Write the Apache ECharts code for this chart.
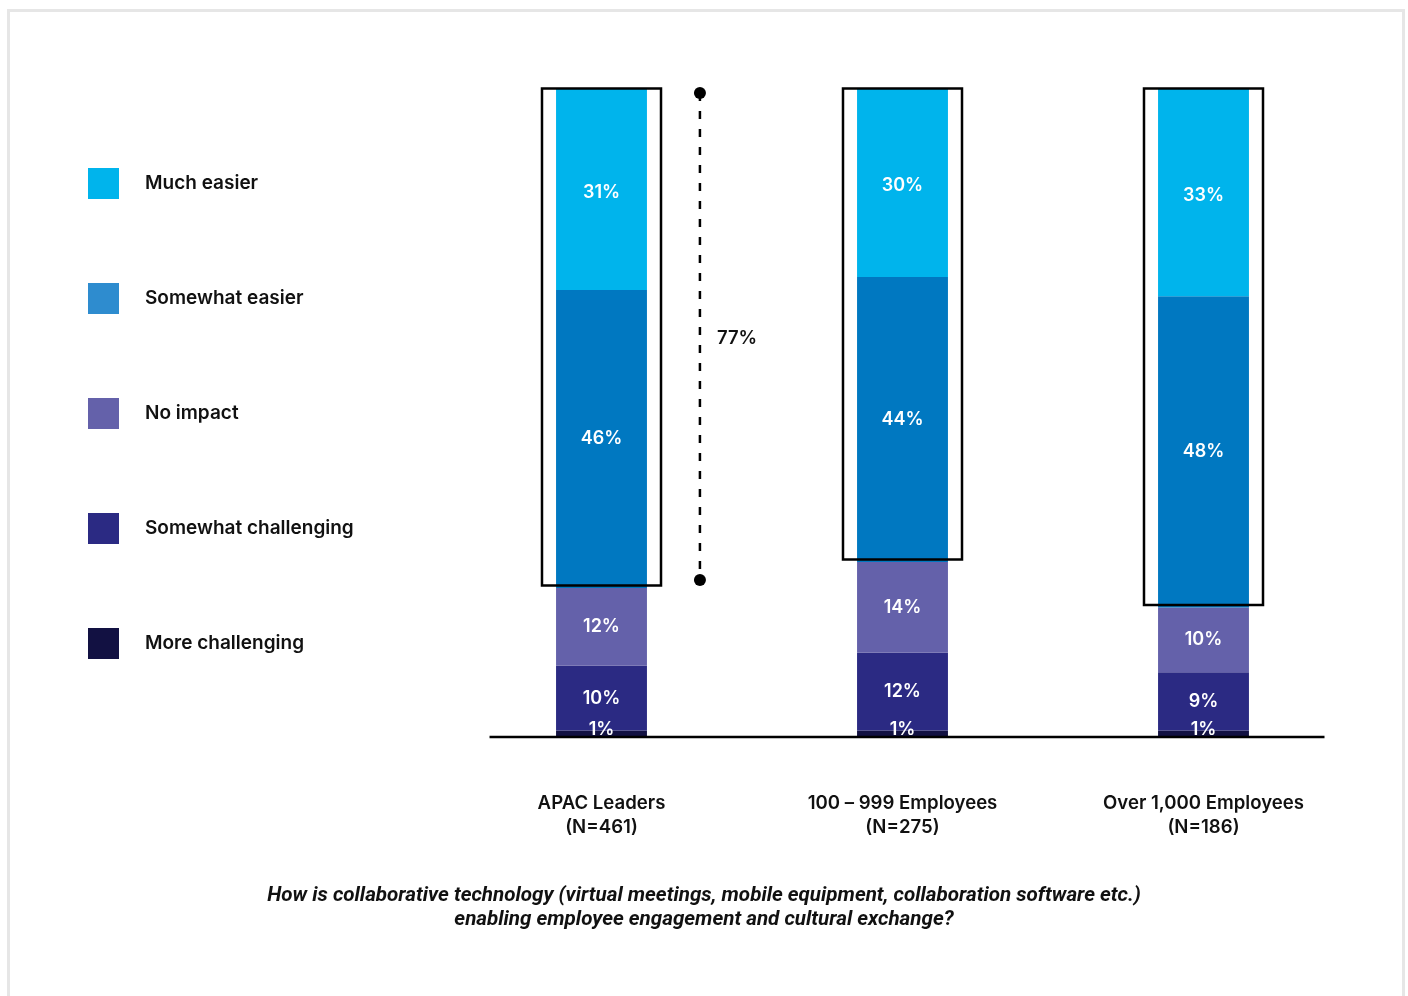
<!DOCTYPE html>
<html>
<head>
<meta charset="utf-8">
<script src="https://cdn.jsdelivr.net/npm/echarts@6/dist/echarts.min.js"></script>
<style>html,body{margin:0;padding:0;background:#fff;}#c{width:1408px;height:996px;}</style>
</head>
<body>
<div id="c"></div>
<script>
const categories = ['APAC Leaders\n(N=461)', '100 – 999 Employees\n(N=275)', 'Over 1,000 Employees\n(N=186)'];
const muchEasier = [31, 30, 33];
const somewhatEasier = [46, 44, 48];
const noImpact = [12, 14, 10];
const somewhatChallenging = [10, 12, 9];
const moreChallenging = [1, 1, 1];
const bracketLabel = '77%';
const seriesNames = ['Much easier', 'Somewhat easier', 'No impact', 'Somewhat challenging', 'More challenging'];

const colors = {
  'Much easier': '#00b4ec',
  'Somewhat easier': '#0078c1',
  'No impact': '#6461aa',
  'Somewhat challenging': '#2b2a83',
  'More challenging': '#121142'
};
const legendColors = {
  'Much easier': '#00b4ec',
  'Somewhat easier': '#2e8ccf',
  'No impact': '#6461aa',
  'Somewhat challenging': '#2b2a83',
  'More challenging': '#121142'
};
const FONT = 'Inter, Roboto, "Noto Sans", sans-serif';
const TFONT = 'Roboto, "Noto Sans", sans-serif';
const YMAX = 100;

const chart = echarts.init(document.getElementById('c'), null, {renderer: 'canvas'});

function barSeries(name, data, offsetY) {
  return {
    name: name, type: 'bar', stack: 'total', data: data,
    barWidth: '30.2%',
    itemStyle: {color: colors[name]},
    label: {show: true, position: 'inside', formatter: '{c}%', color: '#fff',
      fontFamily: FONT, fontSize: 18, fontWeight: 600, offset: [0, offsetY || 0]},
    emphasis: {disabled: true}
  };
}

// outline boxes around the "easier" part of each bar
const boxData = categories.map((c, i) => {
  const lower = moreChallenging[i] + somewhatChallenging[i] + noImpact[i];
  return [i, lower, lower + somewhatEasier[i] + muchEasier[i]];
});
const bracketData = [[0, boxData[0][1], boxData[0][2]]];

const option = {
  backgroundColor: '#fff',
  animation: false,
  title: {
    text: 'How is collaborative technology (virtual meetings, mobile equipment, collaboration software etc.)\nenabling employee engagement and cultural exchange?',
    left: 'center', top: 879,
    textStyle: {fontFamily: TFONT, fontStyle: 'italic', fontWeight: 'bold', fontSize: 20.6, lineHeight: 24, color: '#111'}
  },
  legend: {
    orient: 'vertical', left: 83, top: 163,
    itemWidth: 31, itemHeight: 31, itemGap: 84,
    icon: 'rect',
    selectedMode: false,
    textStyle: {fontFamily: FONT, fontSize: 19, fontWeight: 600, color: '#111', padding: [0, 0, 0, 21]},
    data: seriesNames.map(n => ({name: n, itemStyle: {color: legendColors[n]}}))
  },
  grid: {left: 451, right: 54, top: 89, bottom: 259, containLabel: false},
  xAxis: {
    type: 'category', data: categories,
    axisLine: {show: false}, axisTick: {show: false},
    axisLabel: {margin: 54, fontFamily: FONT, fontSize: 18.6, fontWeight: 600, color: '#111', lineHeight: 24}
  },
  yAxis: {type: 'value', min: 0, max: YMAX, show: false, splitLine: {show: false}},
  graphic: [{
    type: 'rect', shape: {x: 8.5, y: 10.5, width: 1395, height: 1000},
    style: {fill: 'none', stroke: '#e6e6e6', lineWidth: 3}, silent: true, z: -10
  }],
  series: [
    barSeries('More challenging', moreChallenging, -4),
    barSeries('Somewhat challenging', somewhatChallenging),
    barSeries('No impact', noImpact),
    barSeries('Somewhat easier', somewhatEasier),
    barSeries('Much easier', muchEasier, 3),
    {
      type: 'custom', name: 'boxes', z: 5, silent: true,
      data: boxData,
      renderItem: function (params, api) {
        const band = api.size([1, 0])[0];
        const p1 = api.coord([api.value(0), api.value(1)]);
        const p2 = api.coord([api.value(0), Math.min(api.value(2), YMAX)]);
        const hw = band * 0.1977;
        const children = [{
          type: 'rect',
          shape: {x: p1[0] - hw, y: p2[1] - 0.5, width: hw * 2, height: p1[1] - p2[1] - 2},
          style: {fill: 'none', stroke: '#000', lineWidth: 2.5}
        }];
        if (params.dataIndex === 0) {
          // baseline across the chart
          const a = api.coord([0, 0]);
          const b = api.coord([categories.length - 1, 0]);
          children.push({
            type: 'line',
            shape: {x1: a[0] - band * 0.372, y1: a[1], x2: b[0] + band * 0.402, y2: b[1]},
            style: {stroke: '#000', lineWidth: 2.5}
          });
        }
        return {type: 'group', children: children};
      }
    },
    {
      type: 'custom', name: 'bracket', z: 6, silent: true,
      data: bracketData,
      renderItem: function (params, api) {
        const band = api.size([1, 0])[0];
        const lo = api.coord([api.value(0), api.value(1)]);
        const hi = api.coord([api.value(0), Math.min(api.value(2), YMAX)]);
        const x = lo[0] + band * 0.327;
        const y1 = hi[1] + 4, y2 = lo[1] - 8;
        return {
          type: 'group',
          children: [
            {type: 'line', shape: {x1: x, y1: y1, x2: x, y2: y2},
              style: {stroke: '#000', lineWidth: 2.5, lineDash: [8, 10]}},
            {type: 'circle', shape: {cx: x, cy: y1, r: 6}, style: {fill: '#000'}},
            {type: 'circle', shape: {cx: x, cy: y2, r: 6}, style: {fill: '#000'}},
            {type: 'text', style: {text: bracketLabel, x: x + 17, y: (y1 + y2) / 2 + 2,
              fill: '#111', font: '600 18.5px ' + FONT, verticalAlign: 'middle', align: 'left'}}
          ]
        };
      }
    }
  ]
};
chart.setOption(option);
</script>
</body>
</html>
